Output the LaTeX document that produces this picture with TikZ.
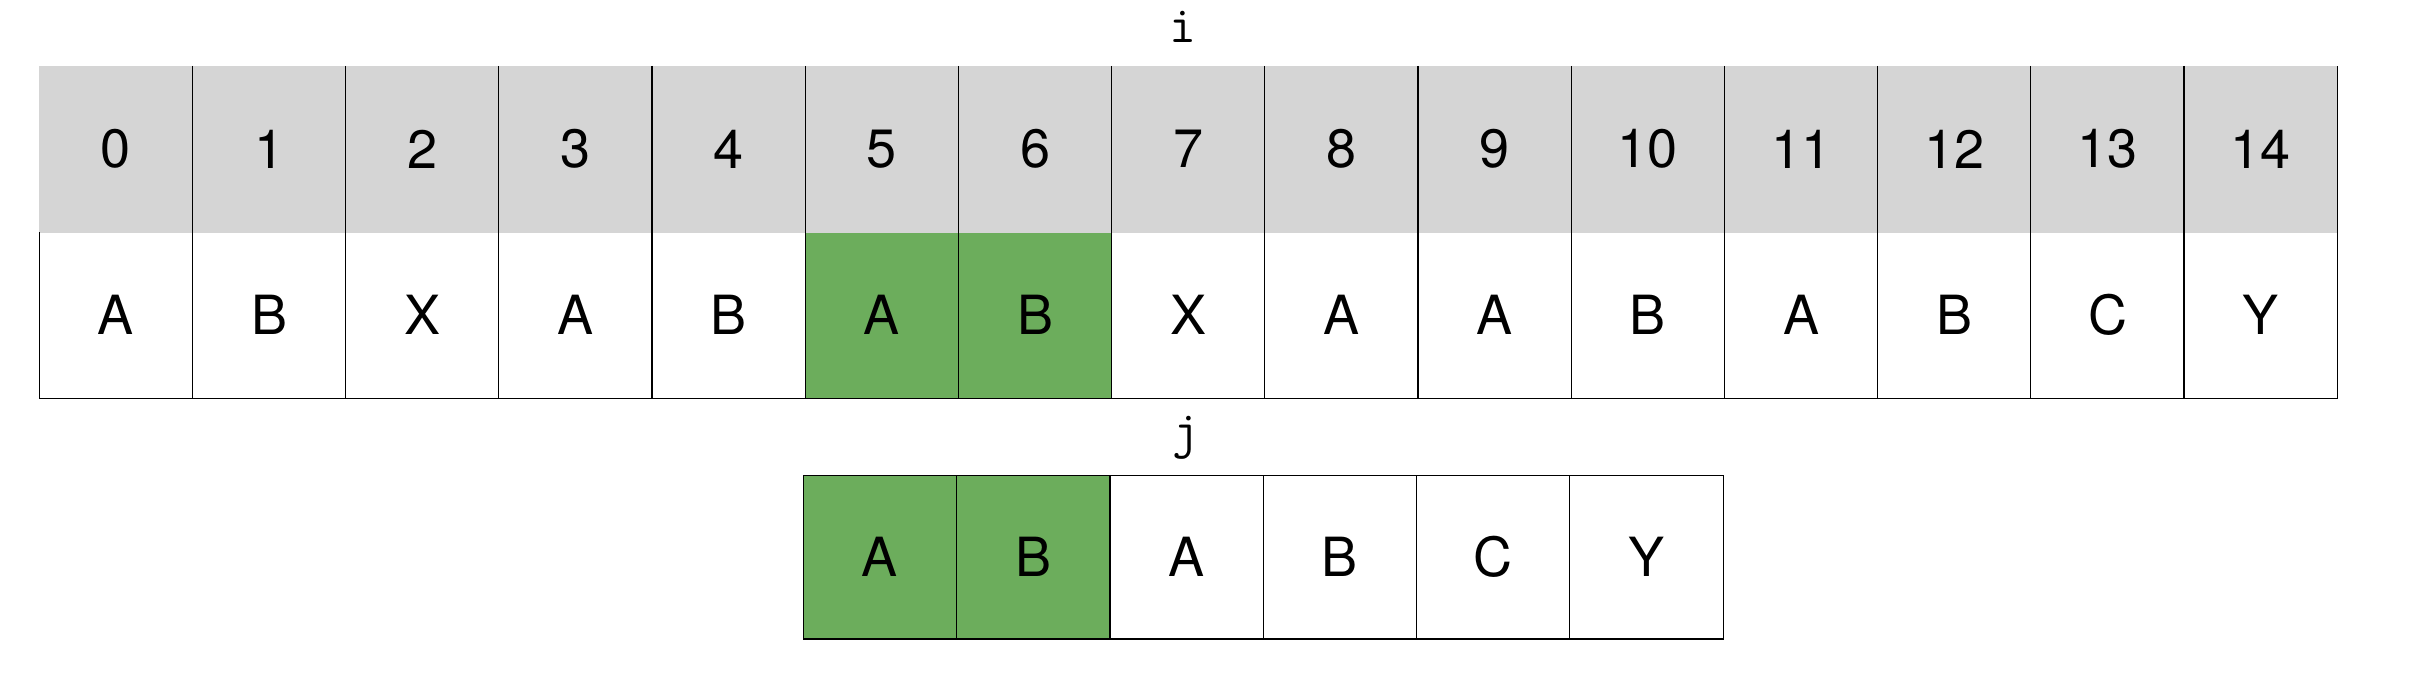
\documentclass[tikz,border=0pt]{standalone}
\usepackage{fontspec}
\setmainfont{TeX Gyre Heros}
\definecolor{hdrgrey}{HTML}{D5D5D5}
\definecolor{matchgreen}{HTML}{6CAD5C}
\tikzset{
  cellbase/.style={inner sep=0pt, minimum width=153.2pt, font=\fontsize{54}{60}\selectfont},
  hdrcell/.style={cellbase, fill=hdrgrey, minimum height=166.5pt},
  valcell/.style={cellbase, minimum height=165.5pt},
  patcell/.style={cellbase, draw=black, line width=1.2pt, minimum width=153.3pt, minimum height=163.7pt},
  hit/.style={fill=matchgreen},
  gridline/.style={draw=black, line width=1.2pt},
  ptrlabel/.style={inner sep=0pt, font=\ttfamily\fontsize{52}{56}\selectfont}
}
\begin{document}
\begin{tikzpicture}[x=1pt,y=-1pt]
\useasboundingbox (0,0) rectangle (2414,698);
% header row (indices)
\foreach \k in {0,...,14} {
  \node[hdrcell] (h\k) at ({39.3+153.2*(\k+0.5)},149.25) {\k};
}
% value row
\foreach \v [count=\c from 0] in {A,B,X,A,B,A,B,X,A,A,B,A,B,C,Y} {
  \ifnum\c=5
    \node[valcell,hit] (v\c) at ({39.3+153.2*(\c+0.5)},315.25) {\v};
  \else\ifnum\c=6
    \node[valcell,hit] (v\c) at ({39.3+153.2*(\c+0.5)},315.25) {\v};
  \else
    \node[valcell] (v\c) at ({39.3+153.2*(\c+0.5)},315.25) {\v};
  \fi\fi
}
% grid lines of the text array
\foreach \k in {1,...,14} {
  \draw[gridline] (h\k.north west) -- (v\k.south west);
}
\draw[gridline] (v0.north west) -- (v0.south west) -- (v14.south east) -- (h14.north east);
% pattern row
\foreach \v [count=\c from 0] in {A,B,A,B,C,Y} {
  \ifnum\c<2
    \node[patcell,hit] (p\c) at ({803.3+153.3*(\c+0.5)},557.15) {\v};
  \else
    \node[patcell] (p\c) at ({803.3+153.3*(\c+0.5)},557.15) {\v};
  \fi
}
% pointer labels
\node[ptrlabel] (ilabel) at (1183,27) {i};
\node[ptrlabel] (jlabel) at (1186,438) {j};
\end{tikzpicture}
\end{document}
